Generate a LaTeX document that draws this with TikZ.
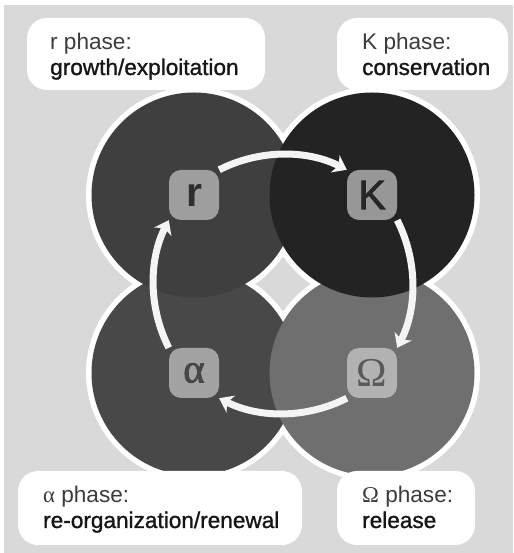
\documentclass[tikz,border=0pt]{standalone}
\usepackage{fontspec}
\setmainfont{Liberation Sans}
\newfontfamily\medfont{Liberation Sans}[FakeBold=1.2]
\newfontfamily\kfont{Liberation Sans}[FakeBold=2]
\newfontfamily\grkfont{Liberation Serif}
\newfontfamily\grkbold{Liberation Serif}[FakeBold=2]
\usetikzlibrary{arrows.meta}
\definecolor{bg}{HTML}{D9D9D9}
\definecolor{cr}{HTML}{3F3F3F}
\definecolor{cK}{HTML}{232323}
\definecolor{ca}{HTML}{484848}
\definecolor{cW}{HTML}{6F6F6F}
\definecolor{br}{HTML}{9E9E9E}
\definecolor{bK}{HTML}{979797}
\definecolor{ba}{HTML}{A3A3A3}
\definecolor{bW}{HTML}{B2B2B2}
\definecolor{lr}{HTML}{2E2E2E}
\definecolor{lK}{HTML}{262626}
\definecolor{la}{HTML}{474747}
\definecolor{lW}{HTML}{5A5A5A}
\definecolor{arrowc}{HTML}{F4F4F4}
\definecolor{tone}{HTML}{3C3C3C}
\definecolor{ttwo}{HTML}{161616}
\begin{document}
\begin{tikzpicture}[x=1pt,y=1pt,
  tag/.style={rectangle, rounded corners=12pt, minimum size=50pt, inner sep=0pt},
  lbl/.style={rectangle, fill=white, rounded corners=20pt, inner sep=0pt},
  lineone/.style={anchor=base west, inner sep=0pt, text=tone, font=\fontsize{22.6}{26}\selectfont},
  linetwo/.style={anchor=base west, inner sep=0pt, text=ttwo, font=\medfont\fontsize{22.6}{26}\selectfont},
  flow/.style={draw=arrowc, line width=7pt, -{Stealth[length=13pt,width=19pt,inset=4pt]}},
  sansbig/.style={font=\kfont\fontsize{41}{41}\selectfont},
  serifbig/.style={font=\grkfont\fontsize{41}{41}\selectfont}]
\useasboundingbox (0,0) rectangle (513,553);
\fill[white] (0,0) rectangle (513,553);
\fill[bg] (4,0) rectangle (513,548);
% circle centres
\coordinate (pr) at (194,358);
\coordinate (pK) at (372,358);
\coordinate (pa) at (194,180);
\coordinate (pW) at (372,180);
% white rings
\foreach \p in {pr,pK,pa,pW} \fill[white] (\p) circle[radius=108pt];
% coloured discs
\fill[ca] (pa) circle[radius=102.5pt];
\fill[cW] (pW) circle[radius=102.5pt];
\fill[cr] (pr) circle[radius=102.5pt];
\fill[cK] (pK) circle[radius=102.5pt];
% phase tags
\node[tag, fill=br, text=lr, font=\bfseries\fontsize{41}{41}\selectfont] (r) at (pr) {r};
\node[tag, fill=bK, text=lK, sansbig] (K) at (pK) {K};
\node[tag, fill=ba, text=la, font=\grkbold\fontsize{41}{41}\selectfont] (a) at (pa) {α};
\node[tag, fill=bW, text=lW, serifbig] (W) at (pW) {Ω};
% cycle arrows
\draw[flow] (r.north east) to[out=27,in=153,looseness=0.9] (K.north west);
\draw[flow] (K.south east) to[out=-63,in=63,looseness=0.9] (W.north east);
\draw[flow] (W.south west) to[out=-153,in=-27,looseness=0.9] (a.south east);
\draw[flow] (a.north west) to[out=117,in=-117,looseness=0.9] (r.south west);
% label boxes
\node[lbl, minimum width=238pt, minimum height=72pt] (lr) at (146,499) {};
\node[lbl, minimum width=171pt, minimum height=72pt] (lK) at (422.5,499) {};
\node[lbl, minimum width=284pt, minimum height=74pt] (la) at (160,45) {};
\node[lbl, minimum width=138pt, minimum height=74pt] (lW) at (406,45) {};
\node[lineone] (lr1) at (50,503) {r phase:};
\node[linetwo] (lr2) at (50,478) {growth/exploitation};
\node[lineone] (lK1) at (362,503) {K phase:};
\node[linetwo] (lK2) at (362,478) {conservation};
\node[lineone] (la1) at (43,50) {{\grkfont α} phase:};
\node[linetwo] (la2) at (43,25) {re-organization/renewal};
\node[lineone] (lW1) at (362,50) {{\grkfont Ω} phase:};
\node[linetwo] (lW2) at (362,25) {release};
\end{tikzpicture}
\end{document}
